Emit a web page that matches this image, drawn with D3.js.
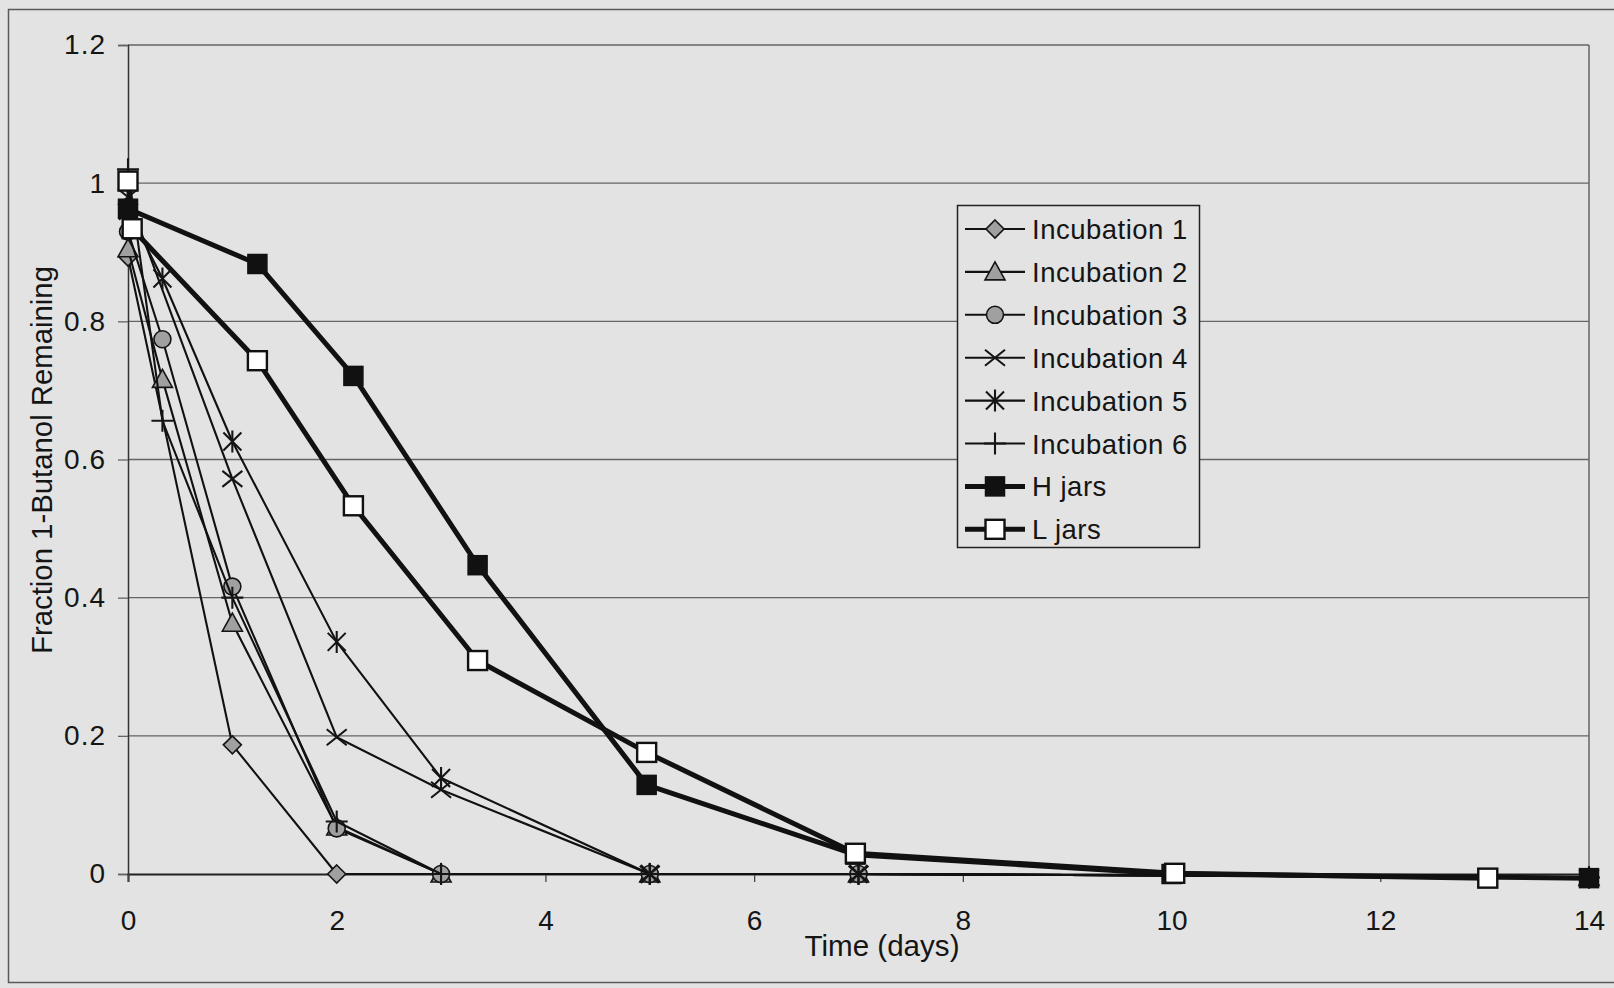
<!DOCTYPE html>
<html>
<head>
<meta charset="utf-8">
<script src="https://cdn.jsdelivr.net/npm/d3@7"></script>
<style>
  html, body { margin: 0; padding: 0; background: #e3e3e3; }
  svg { display: block; }
</style>
</head>
<body>
<svg id="chart" width="1614" height="988"></svg>
<script>
// ---- data ----
const seriesNames = ["Incubation 1", "Incubation 2", "Incubation 3", "Incubation 4", "Incubation 5", "Incubation 6", "H jars", "L jars"];
const inc1Days = [0, 1, 2, 3, 5, 7, 14];
const inc1Vals = [0.893, 0.187, 0, 0, 0, 0, -0.005];
const inc2Days = [0, 0.33, 1, 2, 3, 5, 7, 14];
const inc2Vals = [0.905, 0.716, 0.363, 0.068, 0, 0, 0, -0.005];
const inc3Days = [0, 0.33, 1, 2, 3, 5, 7, 14];
const inc3Vals = [0.93, 0.774, 0.416, 0.066, 0, 0, 0, -0.005];
const inc4Days = [0, 1, 2, 3, 5, 7, 14];
const inc4Vals = [0.98, 0.572, 0.198, 0.122, 0, 0, -0.005];
const inc5Days = [0, 0.33, 1, 2, 3, 5, 7, 14];
const inc5Vals = [0.96, 0.862, 0.626, 0.336, 0.139, 0, 0, -0.005];
const inc6Days = [0, 0.33, 1, 2, 3, 5, 7, 14];
const inc6Vals = [1.02, 0.656, 0.40, 0.076, 0, 0, 0, -0.005];
const hDays = [0, 1.24, 2.16, 3.35, 4.97, 6.97, 10, 14];
const hVals = [0.963, 0.883, 0.721, 0.447, 0.129, 0.028, 0, -0.006];
const lDays = [0, 0.04, 1.24, 2.16, 3.35, 4.97, 6.97, 10.03, 13.03];
const lVals = [1.003, 0.934, 0.743, 0.533, 0.309, 0.176, 0.030, 0.001, -0.006];
const yTicks = [0, 0.2, 0.4, 0.6, 0.8, 1, 1.2];
const xTicks = [0, 2, 4, 6, 8, 10, 12, 14];
const xTitle = "Time (days)";
const yTitle = "Fraction 1-Butanol Remaining";

const zip = (d, v) => d.map((xv, i) => ({x: xv, y: v[i]}));
const series = [
  {name: seriesNames[0], pts: zip(inc1Days, inc1Vals), marker: "diamond", w: 2.1},
  {name: seriesNames[1], pts: zip(inc2Days, inc2Vals), marker: "triangle", w: 2.1},
  {name: seriesNames[2], pts: zip(inc3Days, inc3Vals), marker: "circle", w: 2.1},
  {name: seriesNames[3], pts: zip(inc4Days, inc4Vals), marker: "x", w: 2.1},
  {name: seriesNames[4], pts: zip(inc5Days, inc5Vals), marker: "asterisk", w: 2.1},
  {name: seriesNames[5], pts: zip(inc6Days, inc6Vals), marker: "plus", w: 2.1},
  {name: seriesNames[6], pts: zip(hDays, hVals), marker: "squareFilled", w: 5},
  {name: seriesNames[7], pts: zip(lDays, lVals), marker: "squareOpen", w: 5}
];

// ---- layout ----
const svg = d3.select("#chart");
const pLeft = 128, pRight = 1589, pTop = 45, pBottom = 874;
const x = d3.scaleLinear().domain([0, 14]).range([pLeft, pRight]);
const y = d3.scaleLinear().domain([0, 1.2]).range([pBottom, pTop]);
const ink = "#151515";
const gridCol = "#656565";
const markFill = "#a0a0a0";
const font = "Liberation Sans, Arial, sans-serif";

// outer frame
svg.append("rect").attr("x", 8.5).attr("y", 9.5).attr("width", 1640).attr("height", 973)
  .attr("fill", "#e3e3e3").attr("stroke", "#5a5a5a").attr("stroke-width", 1.5);

// gridlines
svg.append("g").selectAll("line").data(yTicks.filter(t => t > 0)).join("line")
  .attr("x1", pLeft).attr("x2", pRight)
  .attr("y1", d => y(d)).attr("y2", d => y(d))
  .attr("stroke", gridCol).attr("stroke-width", 1.3);
// right border
svg.append("line").attr("x1", pRight).attr("x2", pRight).attr("y1", pTop).attr("y2", pBottom)
  .attr("stroke", gridCol).attr("stroke-width", 1.5);

// y axis
const yAxis = d3.axisLeft(y).tickValues(yTicks).tickSize(10).tickPadding(12)
  .tickFormat(d => d3.format("~g")(d));
const gy = svg.append("g").attr("transform", `translate(${pLeft},0)`).call(yAxis);
gy.select(".domain").attr("stroke", "#333").attr("stroke-width", 1.5);
gy.selectAll(".tick line").attr("stroke", gridCol).attr("stroke-width", 1.3);
gy.selectAll("text").attr("font-family", font)
  .attr("font-size", 28).attr("fill", ink).attr("letter-spacing", 1);

// x axis
const xAxis = d3.axisBottom(x).tickValues(xTicks).tickSize(8).tickPadding(28)
  .tickFormat(d3.format("d"));
const gx = svg.append("g").attr("transform", `translate(0,${pBottom})`).call(xAxis);
gx.select(".domain").attr("stroke", "#222").attr("stroke-width", 2);
gx.selectAll(".tick line").attr("stroke", "#444").attr("stroke-width", 1.3);
gx.selectAll("text").attr("font-family", font)
  .attr("font-size", 28).attr("fill", ink);

// titles
svg.append("text").attr("x", 882).attr("y", 956).attr("text-anchor", "middle")
  .attr("font-family", font).attr("font-size", 30)
  .attr("textLength", 155).attr("lengthAdjust", "spacingAndGlyphs").attr("fill", ink)
  .text(xTitle);
svg.append("text").attr("transform", "translate(52,460) rotate(-90)").attr("text-anchor", "middle")
  .attr("font-family", font).attr("font-size", 30)
  .attr("textLength", 388).attr("lengthAdjust", "spacingAndGlyphs").attr("fill", ink)
  .text(yTitle);

// markers
function drawMarker(g, type, cx, cy) {
  const t = `translate(${cx},${cy})`;
  if (type === "diamond") {
    g.append("path").attr("transform", t).attr("d", "M0,-9L9,0L0,9L-9,0Z")
      .attr("fill", markFill).attr("stroke", ink).attr("stroke-width", 1.6);
  } else if (type === "triangle") {
    g.append("path").attr("transform", t).attr("d", "M0,-10L10,8L-10,8Z")
      .attr("fill", markFill).attr("stroke", ink).attr("stroke-width", 1.6);
  } else if (type === "circle") {
    g.append("circle").attr("cx", cx).attr("cy", cy).attr("r", 8.5)
      .attr("fill", markFill).attr("stroke", ink).attr("stroke-width", 1.6);
  } else if (type === "x") {
    g.append("path").attr("transform", t).attr("d", "M-10,-8L10,8M-10,8L10,-8")
      .attr("fill", "none").attr("stroke", ink).attr("stroke-width", 2.1);
  } else if (type === "asterisk") {
    g.append("path").attr("transform", t).attr("d", "M-9,-9L9,9M-9,9L9,-9M0,-11L0,11")
      .attr("fill", "none").attr("stroke", ink).attr("stroke-width", 2.1);
  } else if (type === "plus") {
    g.append("path").attr("transform", t).attr("d", "M-11,0L11,0M0,-11L0,11")
      .attr("fill", "none").attr("stroke", ink).attr("stroke-width", 2.1);
  } else if (type === "squareFilled") {
    g.append("rect").attr("x", cx - 9.5).attr("y", cy - 9.5).attr("width", 19).attr("height", 19)
      .attr("fill", "#111").attr("stroke", "#111").attr("stroke-width", 1.5);
  } else if (type === "squareOpen") {
    g.append("rect").attr("x", cx - 9.5).attr("y", cy - 9.5).attr("width", 19).attr("height", 19)
      .attr("fill", "#fff").attr("stroke", "#111").attr("stroke-width", 2.4);
  }
}

const line = d3.line().x(d => x(d.x)).y(d => y(d.y));
const plot = svg.append("g");
series.forEach(s => {
  const g = plot.append("g");
  g.append("path").datum(s.pts).attr("d", line).attr("fill", "none")
    .attr("stroke", "#111").attr("stroke-width", s.w).attr("stroke-linejoin", "round");
  s.pts.forEach(p => drawMarker(g, s.marker, x(p.x), y(p.y)));
});

// legend
const lg = svg.append("g");
lg.append("rect").attr("x", 957.5).attr("y", 205.5).attr("width", 242).attr("height", 342)
  .attr("fill", "#e3e3e3").attr("stroke", "#222").attr("stroke-width", 1.5);
series.forEach((s, i) => {
  const cy = 229 + i * 42.9;
  lg.append("line").attr("x1", 965).attr("x2", 1025).attr("y1", cy).attr("y2", cy)
    .attr("stroke", "#111").attr("stroke-width", s.w);
  drawMarker(lg, s.marker, 995, cy);
  lg.append("text").attr("x", 1032).attr("y", cy + 10)
    .attr("font-family", font).attr("font-size", 27.5)
    .attr("letter-spacing", 0.5).attr("fill", ink).text(s.name);
});
</script>
</body>
</html>
